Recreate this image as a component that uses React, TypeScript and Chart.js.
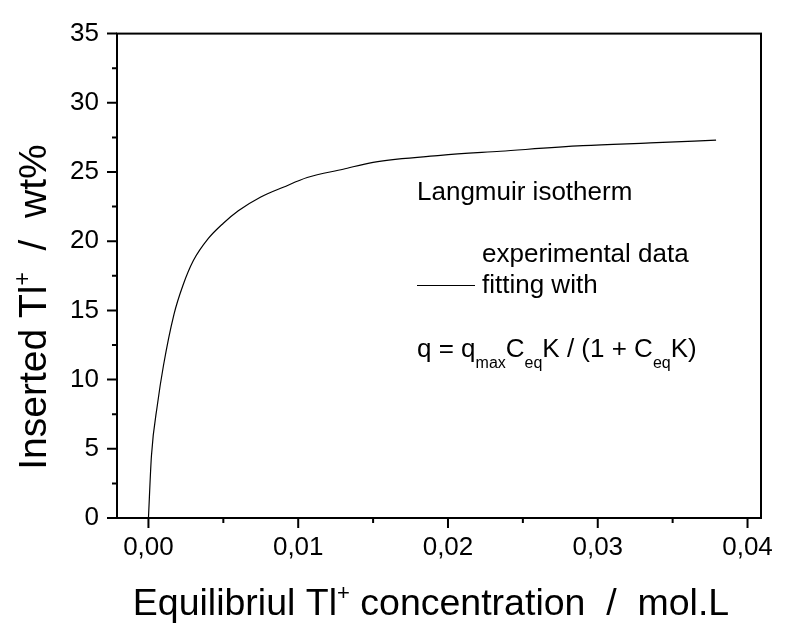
import React, { useEffect, useRef } from "react";
import { Chart, registerables } from "chart.js";

Chart.register(...registerables);

const FONT = '"Liberation Sans", Arial, sans-serif';

// Equilibrium Tl+ concentration (mol/L) and inserted Tl+ (wt%)
const concentration = [0, 0.0002, 0.0006, 0.001, 0.0017, 0.0023, 0.003, 0.004, 0.005, 0.006, 0.0075, 0.009, 0.0106, 0.013, 0.015, 0.0195, 0.0235, 0.029, 0.0335, 0.0379];
const inserted = [0, 4.5, 8.2, 11.0, 14.7, 16.8, 18.6, 20.2, 21.3, 22.2, 23.2, 23.9, 24.6, 25.2, 25.7, 26.2, 26.5, 26.9, 27.1, 27.3];

const xMajorTicks = [0, 0.01, 0.02, 0.03, 0.04];
const xMinorTicks = [0.005, 0.015, 0.025, 0.035];
const yMajorTicks = [0, 5, 10, 15, 20, 25, 30, 35];
const yMinorTicks = [2.5, 7.5, 12.5, 17.5, 22.5, 27.5, 32.5];

type Part = { t: string; size: number; dy: number };

function drawRich(ctx: CanvasRenderingContext2D, parts: Part[], x: number, y: number, align: "left" | "center") {
  let w = 0;
  for (const p of parts) {
    ctx.font = `${p.size}px ${FONT}`;
    w += ctx.measureText(p.t).width;
  }
  let cx = align === "center" ? x - w / 2 : x;
  ctx.textAlign = "left";
  ctx.textBaseline = "alphabetic";
  for (const p of parts) {
    ctx.font = `${p.size}px ${FONT}`;
    ctx.fillText(p.t, cx, y + p.dy);
    cx += ctx.measureText(p.t).width;
  }
}

const decor = {
  id: "decor",
  afterDraw(chart: any) {
    const { ctx, chartArea: a, scales } = chart;
    const x = scales.x;
    const y = scales.y;
    ctx.save();
    ctx.strokeStyle = "#000";
    ctx.lineWidth = 2;
    ctx.strokeRect(a.left, a.top, a.right - a.left, a.bottom - a.top);
    ctx.beginPath();
    for (const v of yMajorTicks) {
      const p = y.getPixelForValue(v);
      ctx.moveTo(a.left - 10, p);
      ctx.lineTo(a.left, p);
    }
    for (const v of yMinorTicks) {
      const p = y.getPixelForValue(v);
      ctx.moveTo(a.left - 5, p);
      ctx.lineTo(a.left, p);
    }
    for (const v of xMajorTicks) {
      const p = x.getPixelForValue(v);
      ctx.moveTo(p, a.bottom);
      ctx.lineTo(p, a.bottom + 10);
    }
    for (const v of xMinorTicks) {
      const p = x.getPixelForValue(v);
      ctx.moveTo(p, a.bottom);
      ctx.lineTo(p, a.bottom + 5);
    }
    ctx.stroke();

    ctx.fillStyle = "#000";
    // x axis title
    drawRich(
      ctx,
      [
        { t: "Equilibriul Tl", size: 37.5, dy: 0 },
        { t: "+", size: 22, dy: -15 },
        { t: " concentration  /  mol.L", size: 37.5, dy: 0 },
      ],
      431,
      615,
      "center"
    );
    // y axis title
    ctx.save();
    ctx.translate(46, 307);
    ctx.rotate(-Math.PI / 2);
    drawRich(
      ctx,
      [
        { t: "Inserted Tl", size: 39, dy: 0 },
        { t: "+", size: 23, dy: -16 },
        { t: "  /  wt%", size: 39, dy: 0 },
      ],
      0,
      0,
      "center"
    );
    ctx.restore();

    // annotation
    drawRich(ctx, [{ t: "Langmuir isotherm", size: 26, dy: 0 }], 417, 200, "left");
    drawRich(ctx, [{ t: "experimental data", size: 26, dy: 0 }], 482, 262, "left");
    drawRich(ctx, [{ t: "fitting with", size: 26, dy: 0 }], 482, 293, "left");
    ctx.lineWidth = 1;
    ctx.beginPath();
    ctx.moveTo(417, 285.5);
    ctx.lineTo(475, 285.5);
    ctx.stroke();
    drawRich(
      ctx,
      [
        { t: "q = q", size: 26, dy: 0 },
        { t: "max", size: 16, dy: 11 },
        { t: "C", size: 26, dy: 0 },
        { t: "eq", size: 16, dy: 11 },
        { t: "K / (1 + C", size: 26, dy: 0 },
        { t: "eq", size: 16, dy: 11 },
        { t: "K)", size: 26, dy: 0 },
      ],
      417,
      357,
      "left"
    );
    ctx.restore();
  },
};

export default function App() {
  const ref = useRef<HTMLCanvasElement | null>(null);
  useEffect(() => {
    if (!ref.current) return;
    const chart = new Chart(ref.current, {
      type: "line",
      data: {
        datasets: [
          {
            data: concentration.map((c, i) => ({ x: c, y: inserted[i] })),
            borderColor: "#000",
            borderWidth: 1.2,
            pointRadius: 0,
            fill: false,
            cubicInterpolationMode: "monotone",
          },
        ],
      },
      options: {
        responsive: true,
        maintainAspectRatio: false,
        animation: false,
        layout: { padding: { top: 30, right: 28, left: 0, bottom: 0 } },
        plugins: { legend: { display: false }, tooltip: { enabled: false } },
        scales: {
          x: {
            type: "linear",
            min: -0.0021,
            max: 0.0409,
            afterFit: (s: any) => {
              s.height = 105;
            },
            grid: { display: false, drawTicks: false },
            border: { display: false },
            ticks: {
              stepSize: 0.01,
              includeBounds: false,
              autoSkip: false,
              maxRotation: 0,
              padding: 14,
              color: "#000",
              font: { family: FONT, size: 26 },
              callback: (v: any) => Number(v).toFixed(2).replace(".", ","),
            },
          },
          y: {
            type: "linear",
            min: 0,
            max: 35,
            afterFit: (s: any) => {
              s.width = 117;
            },
            grid: { display: false, drawTicks: false },
            border: { display: false },
            ticks: {
              stepSize: 5,
              padding: 18,
              color: "#000",
              font: { family: FONT, size: 26 },
            },
          },
        },
      },
      plugins: [decor],
    });
    return () => chart.destroy();
  }, []);
  return (
    <div style={{ position: "absolute", left: 0, top: 0, width: 789, height: 623, background: "#fff" }}>
      <canvas ref={ref} />
    </div>
  );
}
